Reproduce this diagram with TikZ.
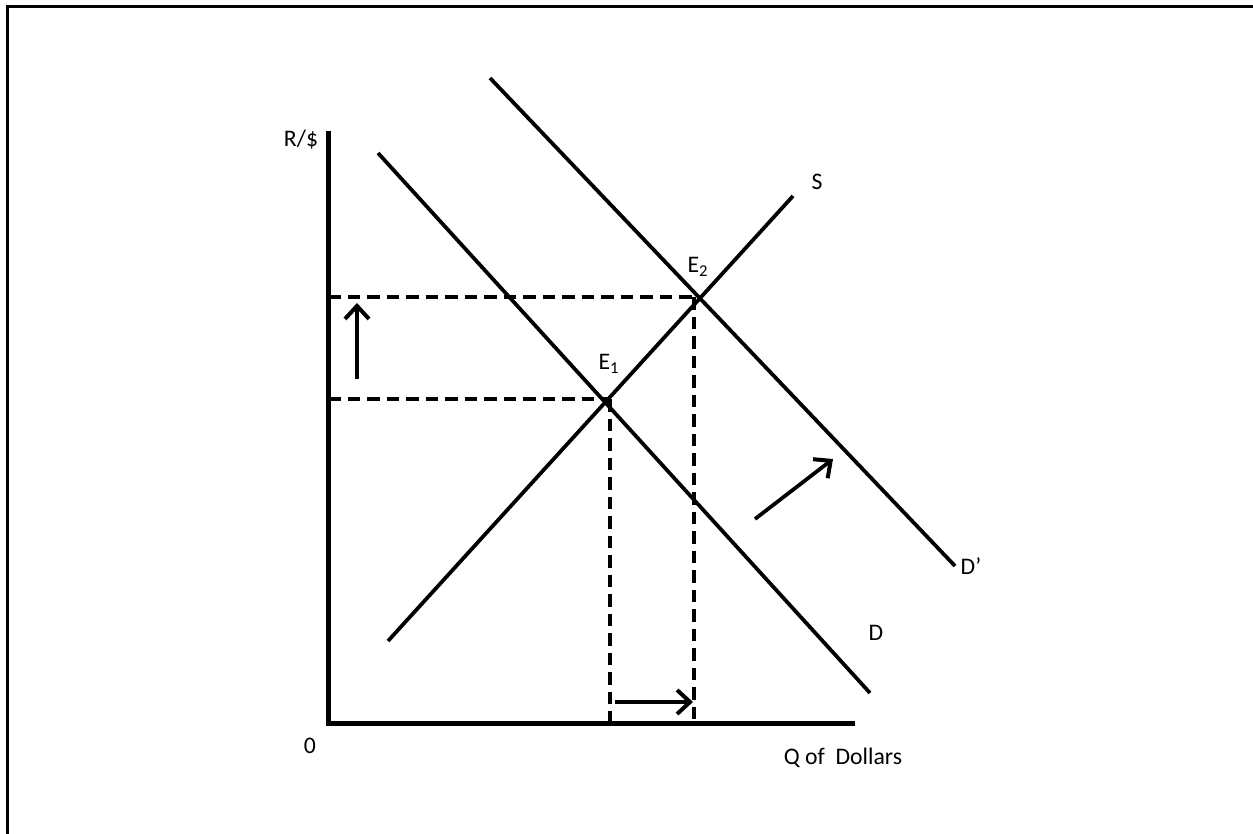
\documentclass[tikz,border=0pt]{standalone}
\usepackage{fontspec}
\setmainfont{Carlito}
\usepackage{tikz}
\usetikzlibrary{arrows.meta, positioning, calc}

\begin{document}
\begin{tikzpicture}[
    x=0.2mm, y=-0.2mm,
    >={Straight Barb[length=2.6mm, width=4.8mm, line width=0.8mm]},
    font=\fontsize{13.5}{16}\selectfont,
    frameline/.style={
        line width=0.6mm,
        draw=black
    },
    axisline/.style={
        line width=1mm,
        draw=black
    },
    curve/.style={
        line width=0.75mm,
        draw=black
    },
    guide/.style={
        line width=0.75mm,
        draw=black,
        dash pattern=on 2.5mm off 1.4mm
    },
    shiftarrow/.style={
        ->,
        line width=0.75mm,
        draw=black
    },
    lbl/.style={
        inner sep=1pt
    }
]

\useasboundingbox (0,0) rectangle (1253,834);

% frame
\coordinate (fl) at (7,834);
\coordinate (fc) at (7,7);
\coordinate (fr) at (1253,7);
\draw[frameline] (fl) -- (fc) -- (fr);

% axes
\coordinate (o)    at (328,723);
\coordinate (ytop) at (328,131);
\coordinate (xend) at (855,723);
\draw[axisline] (ytop) -- (o) -- (xend);

\node[lbl] (ylab) at (301,140) {R/\$};
\node[lbl] (olab) at (310,746) {0};
\node[lbl] (xlab) at (843,758) {Q of\ \ Dollars};

% equilibria
\coordinate (e1) at (610,399);
\coordinate (e2) at (697,297);

% supply and demand
\coordinate (ss) at (388,641);
\coordinate (se) at (793,196);
\coordinate (ds) at (378,153);
\coordinate (de) at (870,693);
\coordinate (dps) at (490,78);
\coordinate (dpe) at (955,566);

\draw[curve] (ss) -- (se);
\draw[curve] (ds) -- (de);
\draw[curve] (dps) -- (dpe);

\node[lbl] (slab)  at (817,182) {S};
\node[lbl] (dlab)  at (876,633) {D};
\node[lbl] (dplab) at (971,566) {D’};
\node[lbl] (e1lab) at (609,364) {E\textsubscript{1}};
\node[lbl] (e2lab) at (698,267) {E\textsubscript{2}};

% dashed guides
\coordinate (r1) at (328,399);
\coordinate (r2) at (328,297);
\coordinate (q1) at (610,723);
\coordinate (q2) at (694,723);
\coordinate (e2v) at (694,297);

\draw[guide] (r1) -- (e1);
\draw[guide] (r2) -- (e2);
\draw[guide] (e1) -- (q1);
\draw[guide] (e2v) -- (q2);

% shifts
\coordinate (ua) at (357,379);
\coordinate (ub) at (357,303);
\coordinate (ha) at (615,702);
\coordinate (hb) at (693,702);
\coordinate (da) at (755,519);
\coordinate (db) at (833,459);

\draw[shiftarrow] (ua) -- (ub);
\draw[shiftarrow] (ha) -- (hb);
\draw[shiftarrow] (da) -- (db);

\end{tikzpicture}
\end{document}
